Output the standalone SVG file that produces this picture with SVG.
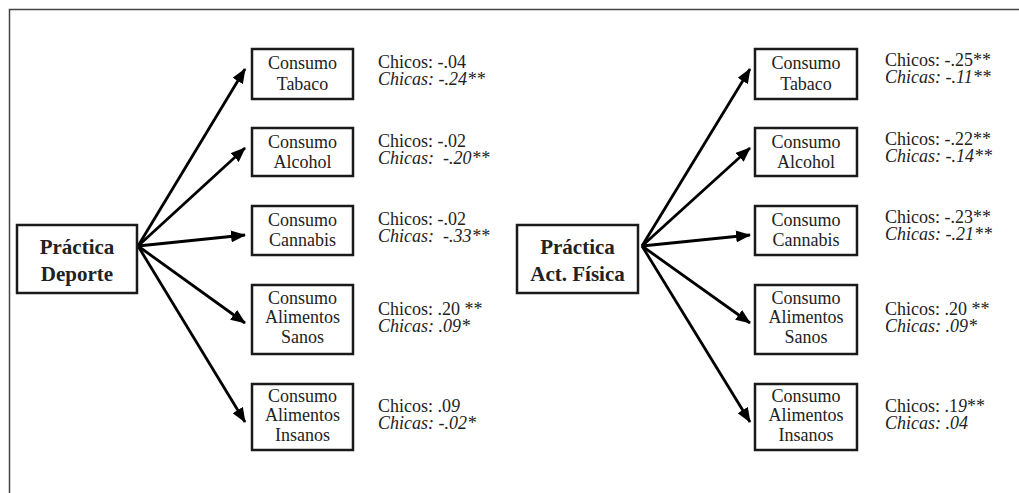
<svg xmlns="http://www.w3.org/2000/svg" width="1019" height="493" viewBox="0 0 1019 493">
<style>
.frame{fill:none;stroke:#444;stroke-width:1.5}
.box{fill:#fff;stroke:#1a1a1a;stroke-width:2.5}
.lbl{font-family:"Liberation Serif","Times New Roman",serif;font-size:18px;fill:#222;text-anchor:middle}
.src{font-family:"Liberation Serif","Times New Roman",serif;font-size:21px;font-weight:bold;fill:#222;text-anchor:middle}
.val{font-family:"Liberation Serif","Times New Roman",serif;font-size:18px;fill:#222;white-space:pre}
.it{font-style:italic}
.arr{fill:none;stroke:#000;stroke-width:2.8;marker-end:url(#ah)}
</style>
<defs>
<marker id="ah" markerUnits="userSpaceOnUse" markerWidth="16" markerHeight="12" refX="14" refY="6" orient="auto">
<path d="M0,0 L15,6 L0,12 Z" fill="#000"/>
</marker>
</defs>
<path class="frame" d="M9.5,493 V9.5 H1019"/>
<g id="connectors">
<line class="arr" x1="138" y1="246" x2="245" y2="69"/>
<line class="arr" x1="138" y1="246" x2="245" y2="148"/>
<line class="arr" x1="138" y1="246" x2="245" y2="235"/>
<line class="arr" x1="138" y1="246" x2="245" y2="323"/>
<line class="arr" x1="138" y1="246" x2="245" y2="422"/>
<line class="arr" x1="642" y1="246" x2="750" y2="69"/>
<line class="arr" x1="642" y1="246" x2="750" y2="148"/>
<line class="arr" x1="642" y1="246" x2="750" y2="235"/>
<line class="arr" x1="642" y1="246" x2="750" y2="323"/>
<line class="arr" x1="642" y1="246" x2="750" y2="422"/>
</g>
<g id="src-deporte">
<rect class="box" x="17" y="225" width="120" height="68"/>
<text class="src" x="77" y="254">Práctica</text>
<text class="src" x="77" y="281">Deporte</text>
</g>
<g id="l-tabaco">
<rect class="box" x="252" y="49" width="101" height="50"/>
<text class="lbl" x="302.5" y="69">Consumo</text>
<text class="lbl" x="302.5" y="90">Tabaco</text>
<text class="val" x="378" y="68">Chicos: -.04</text>
<text class="val it" x="378" y="85">Chicas: -.24**</text>
</g>
<g id="l-alcohol">
<rect class="box" x="252" y="128" width="101" height="48"/>
<text class="lbl" x="302.5" y="148">Consumo</text>
<text class="lbl" x="302.5" y="168">Alcohol</text>
<text class="val" x="378" y="147">Chicos: -.02</text>
<text class="val it" x="378" y="164">Chicas:  -.20**</text>
</g>
<g id="l-cannabis">
<rect class="box" x="252" y="206" width="101" height="49"/>
<text class="lbl" x="302.5" y="226">Consumo</text>
<text class="lbl" x="302.5" y="246">Cannabis</text>
<text class="val" x="378" y="225">Chicos: -.02</text>
<text class="val it" x="378" y="242">Chicas:  -.33**</text>
</g>
<g id="l-sanos">
<rect class="box" x="252" y="285" width="101" height="69"/>
<text class="lbl" x="302.5" y="304">Consumo</text>
<text class="lbl" x="302.5" y="323">Alimentos</text>
<text class="lbl" x="302.5" y="343">Sanos</text>
<text class="val" x="378" y="315">Chicos: .20 **</text>
<text class="val it" x="378" y="332">Chicas: .09*</text>
</g>
<g id="l-insanos">
<rect class="box" x="252" y="384" width="101" height="66"/>
<text class="lbl" x="302.5" y="402">Consumo</text>
<text class="lbl" x="302.5" y="421">Alimentos</text>
<text class="lbl" x="302.5" y="441">Insanos</text>
<text class="val" x="378" y="412">Chicos: .0<tspan class="it">9</tspan></text>
<text class="val it" x="378" y="429">Chicas: -.02*</text>
</g>
<g id="src-actfisica">
<rect class="box" x="517" y="225" width="121" height="68"/>
<text class="src" x="577.5" y="254">Práctica</text>
<text class="src" x="577.5" y="281">Act. Física</text>
</g>
<g id="r-tabaco">
<rect class="box" x="755" y="49" width="102" height="50"/>
<text class="lbl" x="806" y="69">Consumo</text>
<text class="lbl" x="806" y="90">Tabaco</text>
<text class="val" x="885" y="66">Chicos: -.25**</text>
<text class="val it" x="885" y="83">Chicas: -.11**</text>
</g>
<g id="r-alcohol">
<rect class="box" x="755" y="128" width="102" height="48"/>
<text class="lbl" x="806" y="148">Consumo</text>
<text class="lbl" x="806" y="168">Alcohol</text>
<text class="val" x="885" y="145">Chicos: -.22**</text>
<text class="val it" x="885" y="162">Chicas: -.14**</text>
</g>
<g id="r-cannabis">
<rect class="box" x="755" y="206" width="102" height="49"/>
<text class="lbl" x="806" y="226">Consumo</text>
<text class="lbl" x="806" y="246">Cannabis</text>
<text class="val" x="885" y="223">Chicos: -.23**</text>
<text class="val it" x="885" y="240">Chicas: -.21**</text>
</g>
<g id="r-sanos">
<rect class="box" x="755" y="285" width="102" height="69"/>
<text class="lbl" x="806" y="304">Consumo</text>
<text class="lbl" x="806" y="323">Alimentos</text>
<text class="lbl" x="806" y="343">Sanos</text>
<text class="val" x="885" y="315">Chicos: .20 **</text>
<text class="val it" x="885" y="332">Chicas: .09*</text>
</g>
<g id="r-insanos">
<rect class="box" x="755" y="384" width="102" height="66"/>
<text class="lbl" x="806" y="402">Consumo</text>
<text class="lbl" x="806" y="421">Alimentos</text>
<text class="lbl" x="806" y="441">Insanos</text>
<text class="val" x="885" y="412">Chicos: .1<tspan class="it">9</tspan>**</text>
<text class="val it" x="885" y="429">Chicas: .04</text>
</g>
</svg>
